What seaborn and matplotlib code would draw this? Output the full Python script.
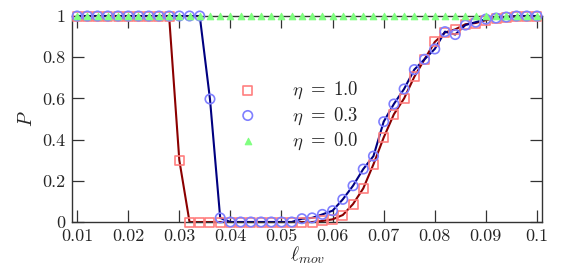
import matplotlib
matplotlib.use("Agg")
import matplotlib.pyplot as plt
import seaborn as sns
import pandas as pd

## values
l_mov = [0.010, 0.012, 0.014, 0.016, 0.018, 0.020, 0.022, 0.024, 0.026, 0.028,
         0.030, 0.032, 0.034, 0.036, 0.038, 0.040, 0.042, 0.044, 0.046, 0.048,
         0.050, 0.052, 0.054, 0.056, 0.058, 0.060, 0.062, 0.064, 0.066, 0.068,
         0.070, 0.072, 0.074, 0.076, 0.078, 0.080, 0.082, 0.084, 0.086, 0.088,
         0.090, 0.092, 0.094, 0.096, 0.098, 0.100]

p_eta10 = [1, 1, 1, 1, 1, 1, 1, 1, 1, 1,
           0.30, 0, 0, 0, 0, 0, 0, 0, 0, 0,
           0, 0, 0, 0, 0.005, 0.013, 0.034, 0.087, 0.163, 0.28,
           0.41, 0.523, 0.60, 0.705, 0.79, 0.874, 0.92, 0.935, 0.96, 0.966,
           0.98, 0.99, 0.995, 1, 1, 1]

p_eta03 = [1, 1, 1, 1, 1, 1, 1, 1, 1, 1,
           1, 1, 1, 0.597, 0.02, 0, 0, 0, 0, 0,
           0, 0, 0.016, 0.02, 0.037, 0.055, 0.11, 0.176, 0.257, 0.32,
           0.487, 0.573, 0.646, 0.74, 0.79, 0.84, 0.924, 0.91, 0.956, 0.97,
           0.985, 0.99, 0.995, 1, 1, 1]

p_eta00 = [1] * len(l_mov)

xticks = [0.01, 0.02, 0.03, 0.04, 0.05, 0.06, 0.07, 0.08, 0.09, 0.1]
xticklabels = ['0.01', '0.02', '0.03', '0.04', '0.05', '0.06', '0.07', '0.08', '0.09', '0.1']
yticks = [0, 0.2, 0.4, 0.6, 0.8, 1]
yticklabels = ['0', '0.2', '0.4', '0.6', '0.8', '1']

df = pd.DataFrame({'l_mov': l_mov, 'eta10': p_eta10, 'eta03': p_eta03, 'eta00': p_eta00})

sns.set_style("ticks")
plt.rcParams['font.family'] = ['cmr10', 'DejaVu Serif']
plt.rcParams['mathtext.fontset'] = 'cm'
plt.rcParams['axes.unicode_minus'] = False

fig = plt.figure(figsize=(5.73, 2.75), dpi=100)
ax = fig.add_axes([0.1257, 0.1927, 0.8203, 0.7491])

## lines first, then the markers on top
sns.lineplot(data=df, x='l_mov', y='eta10', color='#8b0000', lw=1.5, ax=ax, clip_on=False)
sns.lineplot(data=df, x='l_mov', y='eta03', color='#000080', lw=1.5, ax=ax, clip_on=False)

sns.scatterplot(data=df, x='l_mov', y='eta10', marker='s', s=42, facecolor='none',
                edgecolor='#ff7f7f', linewidth=1.2, ax=ax, clip_on=False, zorder=3,
                label=r'$\eta\ =\ 1.0$')
sns.scatterplot(data=df, x='l_mov', y='eta03', marker='o', s=46, facecolor='none',
                edgecolor='#7f7fff', linewidth=1.2, ax=ax, clip_on=False, zorder=4,
                label=r'$\eta\ =\ 0.3$')
sns.scatterplot(data=df, x='l_mov', y='eta00', marker='^', s=22, color='#80ff80',
                edgecolor='#80ff80', linewidth=0.8, ax=ax, clip_on=False, zorder=5,
                label=r'$\eta\ =\ 0.0$')

ax.set_xlim(0.009, 0.101)
ax.set_ylim(0, 1)
ax.set_xticks(xticks)
ax.set_xticklabels(xticklabels)
ax.set_yticks(yticks)
ax.set_yticklabels(yticklabels)
ax.tick_params(direction='in', length=8.5, width=0.9, color='#333333',
               top=True, right=True, labelsize=13, pad=5)
for sp in ax.spines.values():
    sp.set_color('#333333')
    sp.set_linewidth(1.0)

ax.set_xlabel(r'$\ell_{mov}$', fontsize=14, labelpad=0)
ax.set_ylabel(r'$P$', fontsize=14, labelpad=4)

ax.legend(loc='upper left', bbox_to_anchor=(0.334, 0.735), frameon=False, fontsize=13.5,
          handlelength=1.0, handletextpad=1.85, labelspacing=0.2, borderpad=0)

fig.savefig('out.png', dpi=100)
